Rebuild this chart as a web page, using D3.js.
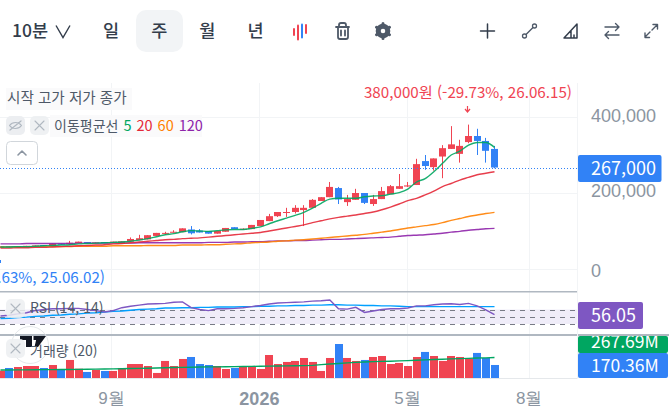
<!DOCTYPE html>
<html lang="ko">
<head>
<meta charset="utf-8">
<title>주봉 차트</title>
<script src="https://cdn.jsdelivr.net/npm/d3@7/dist/d3.min.js"></script>
<style>
  html, body { margin: 0; padding: 0; background: #fff; overflow: hidden; }
  svg { display: block; font-family: "Noto Sans CJK KR", "Noto Sans", sans-serif; }
  .axis path, .axis line { display: none; }
</style>
</head>
<body>
<svg id="chart" width="669" height="413"></svg>
<script>
// Weekly prices, in thousands of won
const openK = [56,60,58,59,60,63,59,67,65,68, 71,68,71,69,66,72,76,78,87,93, 96,97,104,101,100,93,98,110,104,105, 113,126,139,148,150,155,161,179,189,213, 176,182,200,171,184,197,211,217,221,284, 268,296,316,303,334,350,337,316];
const highK = [59,60,60,61,62,63,67,67,74,72, 71,70,71,72,73,83,90,89,95,98, 102,107,113,105,100,100,108,110,107,116, 129,145,150,161,168,168,184,189,229,216, 195,211,200,195,216,221,250,229,290,300, 291,326,376,340,380,369,345,324];
const lowK = [56,57,58,59,60,60,59,64,65,68, 68,68,68,69,66,72,76,78,87,90, 96,97,91,96,93,93,98,105,103,105, 113,126,137,137,146,113,161,179,189,171, 166,182,171,166,184,197,211,216,221,261, 259,239,316,280,331,300,280,265];
const closeK = [59,57,60,61,62,60,67,64,69,72, 68,70,68,72,73,79,81,89,95,95, 98,107,94,96,93,100,108,105,106,116, 129,139,150,150,161,161,182,189,216,183, 184,200,174,184,205,218,218,220,276,271, 291,318,328,324,350,337,311,267];

// Moving averages of the close
const ma5 = [58,58,59,59,60,61,62,63,64,66, 67,68,69,70,71,73,76,80,85,90, 93,98,101,100,99,101,103,104,104,107, 111,119,127,134,141,149,160,173,184,186, 186,186,190,192,193,197,201,210,229,238, 256,278,300,310,326,333,333,320];
const ma20 = [55,55,56,56,57,57,58,59,60,61, 62,63,64,66,67,69,71,73,75,77, 78,80,81,82,84,86,88,90,92,94, 96,100,104,108,112,116,122,127,132,136, 139,142,146,150,156,163,171,180,186,195, 205,217,225,234,241,248,252,256];
const ma60 = [58,58,58,58,59,59,59,59,59,60, 60,60,60,61,61,61,61,62,62,62, 62,63,63,63,64,64,65,66,67,69, 70,71,73,74,76,77,79,81,83,85, 87,89,91,94,97,100,104,108,111,114, 117,122,128,133,138,142,146,149];
const ma120 = [66,66,66,67,67,67,67,67,67,68, 68,68,68,68,68,68,69,69,69,69, 69,69,69,69,70,70,70,71,71,72, 72,73,74,74,75,75,76,77,78,78, 79,80,81,82,83,84,86,88,89,90, 92,94,97,99,102,104,106,107];

// RSI and its signal line
const rsi = [52,54,58,61,67,70,72,72,73,73, 70,67,63,67,75,79,82,85,86,87, 90,91,75,70,67,72,72,73,75,78, 81,85,88,89,90,91,93,94,96,72, 71,76,62,66,70,72,72,74,80,80, 83,85,86,84,87,80,69,56.05];
const rsiSignal = [45,46,48,49,51,52,54,55,57,58, 60,61,63,65,66,68,70,71,72,74, 74,75,75,76,76,77,77,77,78,78, 79,79,80,80,81,81,82,82,83,83, 82,82,81,81,80,80,79,78,78,78, 78,78,78,78,78,78,78,78];

// Traded volume in millions, with its 20-week average
const volumeM = [96,131,144,157,157,131,170,118,236,122, 79,105,92,92,131,183,183,157,66,223, 157,249,275,183,170,157,118,131,144,144, 118,301,183,210,223,262,210,92,262,445, 262,223,236,275,288,183,197,157,275,341, 288,223,288,275,249,328,262,170.36];
const volumeMA = [105,105,106,107,108,109,110,111,112,113, 114,116,118,120,122,124,126,128,131,135, 137,139,141,143,145,146,148,149,150,152, 154,156,158,159,160,162,165,175,183,190, 198,204,210,214,217,220,224,227,232,237, 242,246,250,253,257,261,264,267.69];

// Axis content
const priceTicks = [0, 200, 400];
const priceLabelShift = { 0: 3, 200: -1, 400: 0 };
const rsiLevels = [30, 50, 70];
const timeTicks = [12.8, 29.87, 46.95, 61];
const timeLabels = ["9월", "2026", "5월", "8월"];
const periods = ["일", "주", "월", "년"];
const maLegend = [["5", "#00a661"], ["20", "#e42939"], ["60", "#ff7f00"], ["120", "#8e24aa"]];

const RED = "#f04452", BLUE = "#3182f6", GRID = "#f2f4f6", SEP = "#b0b8c1", AXIS = "#8b95a1", INK = "#4e5968", FRAME_R = 578;
const svg = d3.select("#chart");
const bars = d3.range(closeK.length);

const x = d3.scaleLinear().domain([0, closeK.length - 1]).range([0, 494]);
const yPrice = d3.scaleLinear().domain([0, 400]).range([269, 117]);
const yRsi = d3.scaleLinear().domain([30, 70]).range([324, 309.5]);
const yVol = d3.scaleLinear().domain([0, 445]).range([378, 344]);
const wonFormat = d3.format(",");

const defs = svg.append("defs");
defs.append("clipPath").attr("id", "clip-green").append("rect").attr("x", 578).attr("y", 336).attr("width", 91).attr("height", 17);

// Gridlines
const grid = svg.append("g").attr("stroke", GRID).attr("stroke-width", 1).attr("shape-rendering", "crispEdges");
grid.selectAll("line.v").data(timeTicks).join("line").attr("class", "v")
  .attr("x1", d => Math.round(x(d)) + 0.5).attr("x2", d => Math.round(x(d)) + 0.5).attr("y1", 83).attr("y2", 378);
grid.selectAll("line.h").data(priceTicks).join("line").attr("class", "h")
  .attr("x1", 0).attr("x2", FRAME_R).attr("y1", d => Math.round(yPrice(d)) + 0.5).attr("y2", d => Math.round(yPrice(d)) + 0.5);

// Candles
const candles = svg.append("g").selectAll("g").data(bars).join("g")
  .attr("fill", i => closeK[i] < openK[i] ? BLUE : RED)
  .attr("stroke", "none");
candles.append("rect").attr("x", i => Math.round(x(i))).attr("width", 1)
  .attr("y", i => yPrice(highK[i])).attr("height", i => yPrice(lowK[i]) - yPrice(highK[i]));
candles.append("rect").attr("x", i => Math.round(x(i)) - 3).attr("width", 7)
  .attr("y", i => yPrice(Math.max(openK[i], closeK[i])))
  .attr("height", i => Math.max(1, Math.abs(yPrice(openK[i]) - yPrice(closeK[i]))));

// Moving average lines
const priceLine = d3.line().curve(d3.curveMonotoneX).x((d, i) => x(i) + 0.5).y(d => yPrice(d));
[[ma120, "#8e24aa"], [ma60, "#ff7f00"], [ma20, "#e42939"], [ma5, "#00a661"]].forEach(([series, color]) => {
  svg.append("path").datum(series).attr("d", priceLine).attr("fill", "none")
    .attr("stroke", color).attr("stroke-width", 1.4).attr("opacity", 0.9);
});

// Last price line
svg.append("line").attr("x1", 0).attr("x2", FRAME_R)
  .attr("y1", Math.round(yPrice(closeK[closeK.length - 1])) + 0.5).attr("y2", Math.round(yPrice(closeK[closeK.length - 1])) + 0.5)
  .attr("stroke", BLUE).attr("stroke-width", 1).attr("stroke-dasharray", "1 2");

// High and low annotations
svg.append("text").attr("x", 572).attr("y", 97.5).attr("text-anchor", "end").attr("font-size", 15.2)
  .attr("fill", RED).text("380,000원 (-29.73%, 26.06.15)");
svg.append("path").attr("d", "M467.5 106v5M465 109l2.5 3 2.5-3").attr("fill", "none").attr("stroke", RED).attr("stroke-width", 1.2);
svg.append("text").attr("x", 105).attr("y", 283).attr("text-anchor", "end").attr("font-size", 15.2)
  .attr("fill", BLUE).text(".63%, 25.06.02)");
svg.append("rect").attr("x", 0).attr("y", 260).attr("width", 1).attr("height", 3).attr("fill", BLUE);

// RSI panel
svg.append("rect").attr("x", 0).attr("width", FRAME_R).attr("y", yRsi(70)).attr("height", yRsi(30) - yRsi(70)).attr("fill", "#f0edf9");
svg.append("g").selectAll("line").data(rsiLevels).join("line")
  .attr("x1", 0).attr("x2", FRAME_R).attr("y1", d => Math.round(yRsi(d)) + 0.5).attr("y2", d => Math.round(yRsi(d)) + 0.5)
  .attr("stroke", "#787b86").attr("stroke-width", 1).attr("stroke-dasharray", "5 5");
const rsiLine = d3.line().x((d, i) => x(i) + 0.5).y(d => yRsi(d));
svg.append("path").datum(rsiSignal).attr("d", rsiLine).attr("fill", "none").attr("stroke", "#00a0ff").attr("stroke-width", 1.4);
svg.append("path").datum(rsi).attr("d", rsiLine).attr("fill", "none").attr("stroke", "#7e57c2").attr("stroke-width", 1.4);

// Volume panel
svg.append("g").selectAll("rect").data(bars).join("rect")
  .attr("x", i => Math.round(x(i) - 3.5)).attr("width", 8)
  .attr("y", i => yVol(volumeM[i])).attr("height", i => yVol(0) - yVol(volumeM[i]))
  .attr("fill", i => closeK[i] < openK[i] ? BLUE : RED);
svg.append("path").datum(volumeMA).attr("fill", "none").attr("stroke", "#00a661").attr("stroke-width", 1.4)
  .attr("d", d3.line().x((d, i) => x(i) + 0.5).y(d => yVol(d)));

// Panel separators
svg.append("rect").attr("x", 0).attr("y", 291).attr("width", FRAME_R).attr("height", 1.5).attr("fill", SEP);
svg.append("rect").attr("x", 0).attr("y", 334).attr("width", 669).attr("height", 2).attr("fill", SEP);
svg.append("rect").attr("x", 0).attr("y", 378).attr("width", FRAME_R).attr("height", 1).attr("fill", "#e5e8eb");
svg.append("rect").attr("x", FRAME_R - 1).attr("y", 83).attr("width", 1).attr("height", 296).attr("fill", GRID);

// Price axis
const priceAxis = d3.axisRight(yPrice).tickValues(priceTicks).tickSize(0).tickPadding(0)
  .tickFormat(d => wonFormat(d * 1000));
svg.append("g").attr("class", "axis").attr("transform", "translate(591,-1)").call(priceAxis)
  .call(g => g.selectAll("text").attr("font-size", 18).attr("fill", AXIS).attr("font-family", "inherit")
    .attr("transform", d => `translate(0,${priceLabelShift[d]})`));

// Time axis
const timeAxis = d3.axisBottom(x).tickValues(timeTicks).tickSize(0).tickPadding(0)
  .tickFormat((d, i) => timeLabels[i]);
svg.append("g").attr("class", "axis").attr("transform", "translate(0,392)").call(timeAxis)
  .call(g => g.selectAll("text").attr("fill", AXIS).attr("font-family", "inherit")
    .attr("font-size", (d, i) => timeLabels[i] === "2026" ? 18 : 17)
    .attr("font-weight", (d, i) => timeLabels[i] === "2026" ? 700 : 400));

// Value tags
function tag(y, h, w, color, label, size, clip) {
  const g = svg.append("g");
  g.append("rect").attr("x", FRAME_R).attr("y", y).attr("width", w).attr("height", h).attr("rx", 2).attr("fill", color);
  const t = g.append("text").attr("x", 591).attr("y", y + h / 2 + size * 0.36)
    .attr("font-size", size).attr("font-weight", 400).attr("fill", "#fff").text(label);
  if (clip) { g.attr("clip-path", clip); t.attr("y", 348); }
}
tag(155, 27, 83.5, BLUE, wonFormat(closeK[closeK.length - 1] * 1000), 18);
tag(302, 27, 65, "#7e57c2", d3.format(".2f")(rsi[rsi.length - 1]), 18);
tag(336, 17, 90, "#00a661", volumeMA[volumeMA.length - 1].toFixed(2) + "M", 17.5, "url(#clip-green)");
tag(353, 25, 90, BLUE, volumeM[volumeM.length - 1].toFixed(2) + "M", 17.5);

// Toolbar
svg.append("rect").attr("x", 136).attr("y", 10).attr("width", 47).attr("height", 42).attr("rx", 10).attr("fill", GRID);
svg.append("text").attr("x", 12).attr("y", 37).attr("font-size", 17.5).attr("font-weight", 500).attr("fill", "#333d4b").text("10분");
svg.append("path").attr("d", "M56 25.5l7 12 7-12").attr("fill", "none").attr("stroke", "#333d4b").attr("stroke-width", 1.4);
svg.append("g").selectAll("text").data(periods).join("text")
  .attr("x", (d, i) => 111 + i * 48.2).attr("y", 37).attr("text-anchor", "middle")
  .attr("font-size", 17.5).attr("font-weight", 500).attr("fill", "#333d4b").text(d => d);

const iconStroke = (d, w = 1.6, color = INK) => svg.append("path").attr("d", d).attr("fill", "none")
  .attr("stroke", color).attr("stroke-width", w).attr("stroke-linecap", "round").attr("stroke-linejoin", "round");
iconStroke("M294 29v6", 2, RED);
iconStroke("M298 25.5v14", 2, RED);
iconStroke("M302 24.5v13", 2, BLUE);
iconStroke("M306 25v8", 2, RED);
iconStroke("M336 27h13M338 27v10a2 2 0 0 0 2 2h6a2 2 0 0 0 2-2V27M339 27v-2a2 2 0 0 1 2-2h3a2 2 0 0 1 2 2v2M341 30.5v5M345 30.5v5", 1.8);
svg.append("circle").attr("cx", 383).attr("cy", 31).attr("r", 4.8).attr("fill", "none").attr("stroke", INK).attr("stroke-width", 5);
iconStroke("M383 23.5v2M383 36.5v2M376.5 27.2l1.7 1M387.8 33.8l1.7 1M376.5 34.8l1.7-1M387.8 28.2l1.7-1", 3);
iconStroke("M487.5 24v14M480.5 31h14", 1.5, "#333d4b");
iconStroke("M525 35.5l9-9", 1.4);
svg.append("circle").attr("cx", 524.5).attr("cy", 36).attr("r", 2).attr("fill", "#fff").attr("stroke", INK).attr("stroke-width", 1.3);
svg.append("circle").attr("cx", 534.5).attr("cy", 26).attr("r", 2).attr("fill", "#fff").attr("stroke", INK).attr("stroke-width", 1.3);
iconStroke("M564 38L577 24v14zM571 38v-7M574 38v-3", 1.5, "#333d4b");
iconStroke("M605 27h14M615.5 23.5l3.5 3.5-3.5 3.5M619 35h-14M608.5 31.5L605 35l3.5 3.5", 1.4);
iconStroke("M652 30l5-5M653 24.5h4.5V29M650 32l-5 5M649.5 37.5H645V33", 1.4);

// Chart legend
svg.append("rect").attr("x", 6).attr("y", 88).attr("width", 126).attr("height", 22).attr("fill", "#f9fafb").attr("opacity", 0.9);
svg.append("text").attr("x", 7).attr("y", 103).attr("font-size", 14.6).attr("fill", INK).text("시작 고가 저가 종가");
svg.append("rect").attr("x", 50).attr("y", 115).attr("width", 152).attr("height", 22).attr("fill", "#f9fafb").attr("opacity", 0.9);
function closeButton(bx, by) {
  svg.append("rect").attr("x", bx).attr("y", by).attr("width", 19).attr("height", 19).attr("rx", 5).attr("fill", "#eceef1").attr("opacity", 0.85);
  iconStroke(`M${bx + 5} ${by + 5}l9 9M${bx + 14} ${by + 5}l-9 9`, 1.1, "#b0b8c1");
}
svg.append("rect").attr("x", 6).attr("y", 116).attr("width", 19).attr("height", 19).attr("rx", 5).attr("fill", "#eceef1");
iconStroke("M9.5 125.5c3-4 9-4 12 0c-3 4-9 4-12 0zM10 130l11-9", 1.2, "#b0b8c1");
closeButton(30, 116);
const maText = svg.append("text").attr("x", 54).attr("y", 131).attr("font-size", 14).attr("fill", INK);
maText.append("tspan").text("이동평균선");
maLegend.forEach(([label, color]) => {
  maText.append("tspan").attr("dx", 5).attr("fill", color).attr("font-size", 14.5).text(label);
});
svg.append("rect").attr("x", 6.5).attr("y", 141.5).attr("width", 31).attr("height", 23).attr("rx", 4).attr("fill", "#fff").attr("stroke", "#d1d6db");
iconStroke("M18 155l4-4 4 4", 1.6, "#8b95a1");

// Panel legends and watermark
svg.append("circle").attr("cx", 30).attr("cy", 345).attr("r", 18.5).attr("fill", "none").attr("stroke", "#e5e8eb").attr("stroke-width", 1);
svg.append("path").attr("d", "M20 336h12v11h-6v-7h-6zM37 336h9l-8 11h-3.5zM33.5 336h3.5v4h-3.5z").attr("fill", "#131722");
closeButton(6, 299);
svg.append("text").attr("x", 30).attr("y", 313).attr("font-size", 14).attr("fill", INK).text("RSI (14, 14)");
closeButton(6, 339);
svg.append("text").attr("x", 30).attr("y", 356).attr("font-size", 14).attr("fill", INK).text("거래량 (20)");
</script>
</body>
</html>
